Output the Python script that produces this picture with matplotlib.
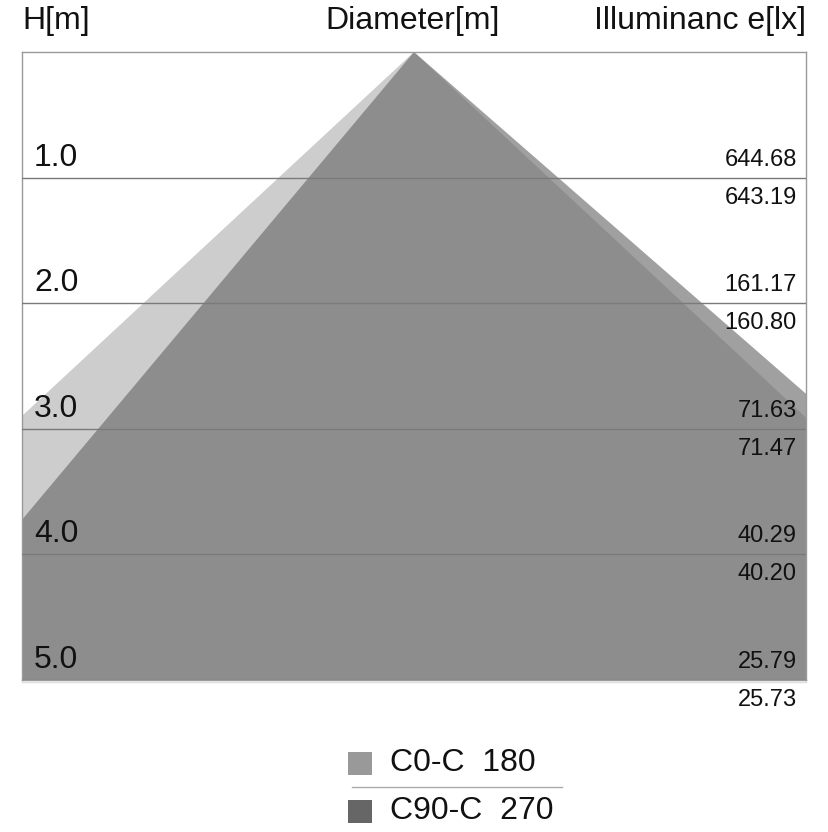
import matplotlib
matplotlib.use("Agg")
import matplotlib.pyplot as plt
from matplotlib.patches import Polygon, Rectangle
from matplotlib.lines import Line2D

plt.rcParams['font.family'] = ['Liberation Sans', 'DejaVu Sans']

# ---- data ----
heights = [1.0, 2.0, 3.0, 4.0, 5.0]
height_labels = ["1.0", "2.0", "3.0", "4.0", "5.0"]
c0_lux = ["644.68", "161.17", "71.63", "40.29", "25.79"]
c90_lux = ["643.19", "160.80", "71.47", "40.20", "25.73"]
# half-spread (m of radius per m of height), left / right
c0_spread = [1.077, 1.072]
c90_spread = [0.838, 1.147]
legend_labels = ["C0-C  180", "C90-C  270"]
c0_color = "#999999"
c90_color = "#666666"

W, H = 829, 832
fig = plt.figure(figsize=(W / 100, H / 100), dpi=100)

# axes placed in pixel coordinates
left, right, top, bottom = 22, 806, 52, 680
ax = fig.add_axes([left / W, 1 - bottom / H, (right - left) / W, (bottom - top) / H])
hmax = heights[-1]
half = (right - left) / 2 / ((bottom - top) / hmax)
ax.set_xlim(-half, half)
ax.set_ylim(hmax, 0)
ax.set_xticks([])
ax.set_yticks([])
for s in ax.spines.values():
    s.set_color("#999999")
    s.set_linewidth(1.0)

D = hmax * 3
ax.add_patch(Polygon([(0, 0), (-c0_spread[0] * D, D), (c0_spread[1] * D, D)],
                     closed=True, facecolor=c0_color, alpha=0.49, edgecolor="none", zorder=1))
ax.add_patch(Polygon([(0, 0), (-c90_spread[0] * D, D), (c90_spread[1] * D, D)],
                     closed=True, facecolor=c90_color, alpha=0.62, edgecolor="none", zorder=2))

for h in heights:
    ax.axhline(h, color="#7a7a7a", linewidth=1.0, zorder=3)

TXT = "#111111"
ax_px = (bottom - top) / hmax
for h, lab, a, b in zip(heights, height_labels, c0_lux, c90_lux):
    y = top + h * ax_px
    fig.text(34 / W, 1 - (y - 20) / H, lab, fontsize=23, ha="left", va="center", color=TXT)
    fig.text(797 / W, 1 - (y - 18) / H, a, fontsize=17, ha="right", va="center", color=TXT)
    fig.text(797 / W, 1 - (y + 20) / H, b, fontsize=17, ha="right", va="center", color=TXT)

# faint line just below the bottom edge
fig.add_artist(Line2D([left / W, right / W], [1 - 682 / H, 1 - 682 / H], color="#dddddd", linewidth=1))

# headers
fig.text(22 / W, 1 - 21 / H, "H[m]", fontsize=23, ha="left", va="center", color=TXT)
fig.text(413 / W, 1 - 21 / H, "Diameter[m]", fontsize=23, ha="center", va="center", color=TXT)
fig.text(806 / W, 1 - 21 / H, "Illuminanc e[lx]", fontsize=23, ha="right", va="center", color=TXT)

# legend
for i, (lab, col) in enumerate(zip(legend_labels, [c0_color, c90_color])):
    yc = 763 + i * 48
    fig.add_artist(Rectangle((348 / W, 1 - (yc + 11.5) / H), 24 / W, 23 / H,
                             facecolor=col, edgecolor="none", transform=fig.transFigure))
    fig.text(390 / W, 1 - yc / H, lab, fontsize=23, ha="left", va="center", color=TXT)
fig.add_artist(Line2D([352 / W, 562 / W], [1 - 787 / H, 1 - 787 / H], color="#aaaaaa", linewidth=1))

fig.savefig("out.png", dpi=100)
